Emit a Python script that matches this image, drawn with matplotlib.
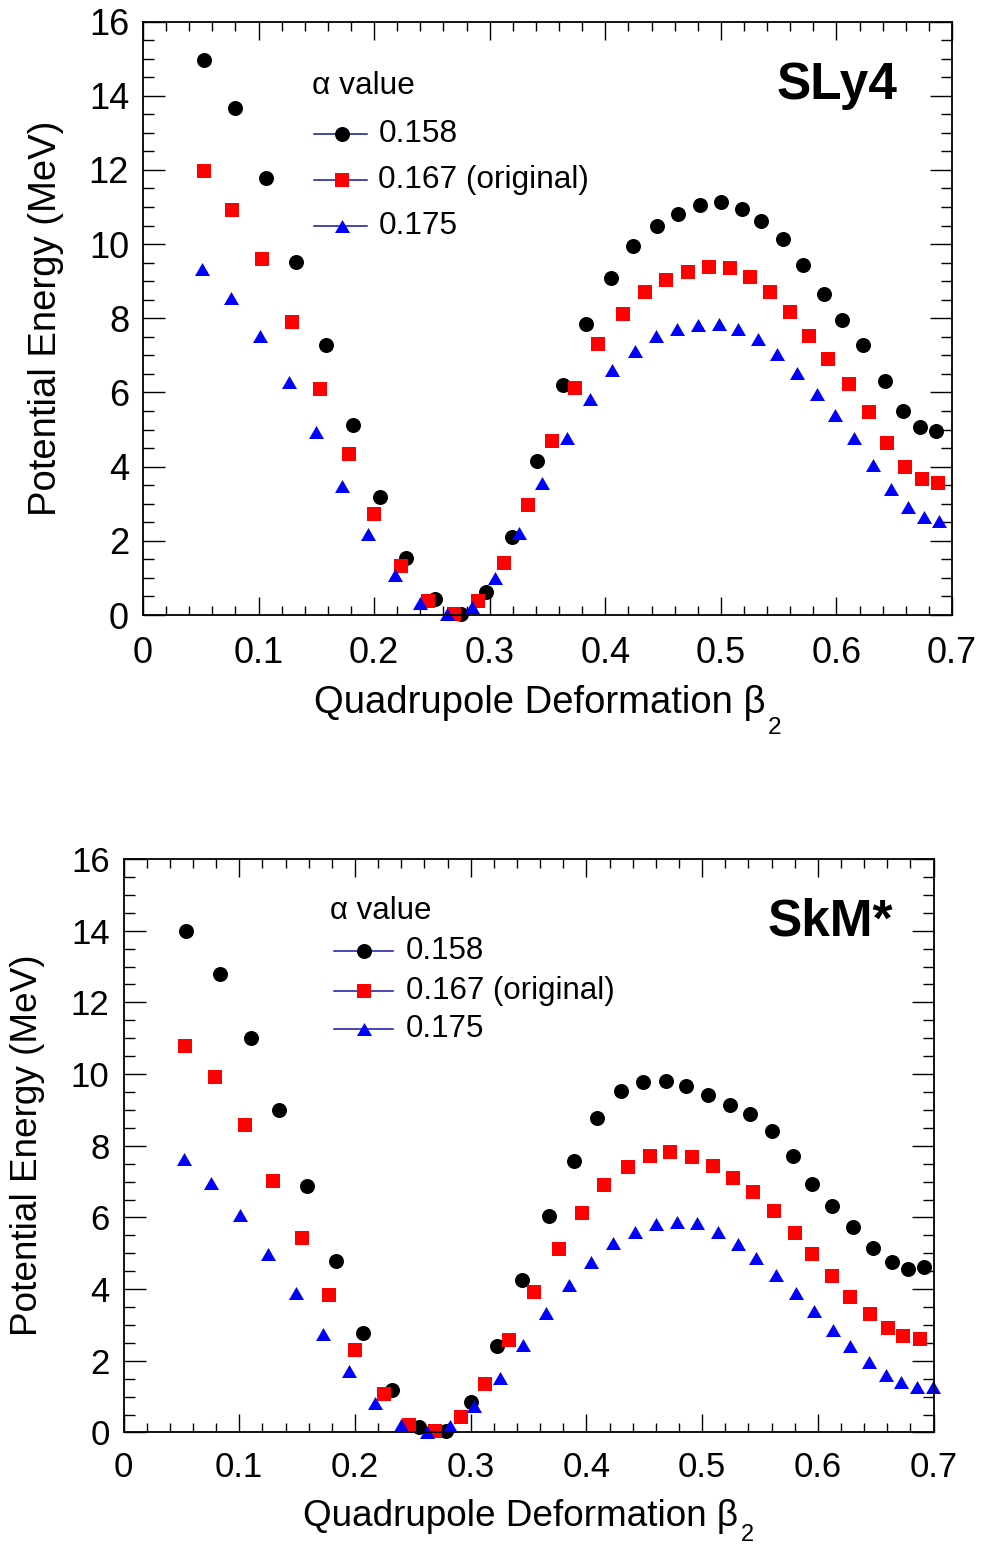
import matplotlib
matplotlib.use("Agg")
import matplotlib.pyplot as plt
from matplotlib.ticker import MultipleLocator, FuncFormatter
from matplotlib.lines import Line2D

plt.rcParams["font.family"] = ["Liberation Sans", "DejaVu Sans"]

# ---------------- data: SLy4 ----------------
sly4_beta_158 = [0.053, 0.080, 0.106, 0.132, 0.158, 0.182, 0.205, 0.228, 0.253, 0.275,
                 0.297, 0.319, 0.341, 0.363, 0.383, 0.405, 0.424, 0.445, 0.463, 0.482,
                 0.500, 0.518, 0.535, 0.554, 0.571, 0.589, 0.605, 0.623, 0.642, 0.658,
                 0.672, 0.686]
sly4_e_158 = [14.95, 13.66, 11.77, 9.51, 7.29, 5.13, 3.17, 1.54, 0.42, 0.04,
              0.61, 2.11, 4.16, 6.19, 7.84, 9.08, 9.94, 10.48, 10.81, 11.04,
              11.13, 10.95, 10.63, 10.14, 9.44, 8.66, 7.94, 7.29, 6.31, 5.49,
              5.07, 4.95]

sly4_beta_167 = [0.053, 0.077, 0.103, 0.129, 0.153, 0.178, 0.200, 0.223, 0.247, 0.269,
                 0.290, 0.312, 0.333, 0.354, 0.374, 0.394, 0.415, 0.434, 0.4525, 0.472,
                 0.490, 0.508, 0.525, 0.5425, 0.560, 0.5765, 0.593, 0.611, 0.628, 0.644,
                 0.659, 0.674, 0.688]
sly4_e_167 = [11.97, 10.93, 9.60, 7.89, 6.10, 4.35, 2.71, 1.33, 0.39, 0.04,
              0.39, 1.40, 2.97, 4.68, 6.12, 7.30, 8.11, 8.70, 9.04, 9.25,
              9.38, 9.35, 9.11, 8.70, 8.16, 7.51, 6.90, 6.22, 5.46, 4.63,
              4.00, 3.67, 3.55]

sly4_beta_175 = [0.051, 0.076, 0.101, 0.126, 0.150, 0.172, 0.195, 0.218, 0.240, 0.263,
                 0.285, 0.305, 0.325, 0.3455, 0.3666, 0.387, 0.406, 0.426, 0.444, 0.462,
                 0.480, 0.498, 0.515, 0.532, 0.549, 0.566, 0.583, 0.599, 0.6155, 0.632,
                 0.647, 0.662, 0.676, 0.689]
sly4_e_175 = [9.33, 8.55, 7.51, 6.27, 4.93, 3.49, 2.18, 1.07, 0.32, 0.03,
              0.22, 0.99, 2.20, 3.55, 4.78, 5.82, 6.61, 7.12, 7.51, 7.71,
              7.81, 7.85, 7.72, 7.45, 7.04, 6.52, 5.96, 5.40, 4.77, 4.05,
              3.40, 2.92, 2.64, 2.54]

# ---------------- data: SkM* ----------------
skm_beta_158 = [0.054, 0.083, 0.110, 0.134, 0.159, 0.184, 0.207, 0.232, 0.255, 0.279,
                0.300, 0.323, 0.344, 0.368, 0.389, 0.409, 0.430, 0.449, 0.469, 0.4865,
                0.505, 0.524, 0.541, 0.560, 0.579, 0.595, 0.6125, 0.630, 0.6476, 0.664,
                0.678, 0.692]
skm_e_158 = [14.00, 12.79, 11.01, 9.01, 6.89, 4.78, 2.77, 1.18, 0.16, 0.04,
             0.84, 2.42, 4.26, 6.05, 7.57, 8.77, 9.52, 9.78, 9.80, 9.66,
             9.42, 9.15, 8.89, 8.40, 7.71, 6.93, 6.32, 5.74, 5.16, 4.75,
             4.56, 4.62]

skm_beta_167 = [0.053, 0.079, 0.105, 0.1295, 0.154, 0.1776, 0.200, 0.2247, 0.247, 0.2693,
                0.2915, 0.3125, 0.3335, 0.355, 0.376, 0.396, 0.415, 0.436, 0.455, 0.4727,
                0.4917, 0.5095, 0.5268, 0.544, 0.562, 0.580, 0.5953, 0.612, 0.628, 0.6447,
                0.661, 0.674, 0.688]
skm_e_167 = [10.79, 9.93, 8.59, 7.03, 5.42, 3.84, 2.29, 1.06, 0.22, 0.04,
             0.44, 1.35, 2.59, 3.91, 5.12, 6.11, 6.90, 7.41, 7.71, 7.83,
             7.69, 7.44, 7.11, 6.70, 6.18, 5.57, 4.97, 4.37, 3.79, 3.30,
             2.91, 2.68, 2.62]

skm_beta_175 = [0.052, 0.076, 0.101, 0.1246, 0.149, 0.172, 0.195, 0.2176, 0.2397, 0.262,
                0.2822, 0.303, 0.3254, 0.345, 0.365, 0.385, 0.4037, 0.4227, 0.442, 0.4598,
                0.478, 0.4957, 0.5138, 0.531, 0.547, 0.564, 0.581, 0.5964, 0.613, 0.628,
                0.644, 0.6586, 0.672, 0.686, 0.6994]
skm_e_175 = [7.64, 6.96, 6.06, 4.99, 3.89, 2.75, 1.72, 0.83, 0.22, 0.01,
             0.19, 0.75, 1.52, 2.43, 3.33, 4.12, 4.77, 5.28, 5.60, 5.83,
             5.88, 5.85, 5.60, 5.26, 4.86, 4.40, 3.90, 3.39, 2.87, 2.40,
             1.96, 1.61, 1.40, 1.26, 1.26]

alpha_labels = ["0.158", "0.167 (original)", "0.175"]
colors = ["black", "#ff0000", "#0000ff"]
legend_line_color = "#1414a0"

# equilateral triangle (full triangle up)
tri = [(0.0, 0.5), (-0.577, -0.5), (0.577, -0.5)]
markers = ["o", "s", tri]
msizes = [10.8, 10.2, 10.8]

fig = plt.figure(figsize=(9.83, 15.44), dpi=100)
renderer = fig.canvas.get_renderer()


def style_axes(ax, fs, xpad):
    ax.set_xlim(0, 0.7)
    ax.set_ylim(0, 16)
    ax.xaxis.set_major_locator(MultipleLocator(0.1))
    ax.xaxis.set_minor_locator(MultipleLocator(0.02))
    ax.yaxis.set_major_locator(MultipleLocator(2))
    ax.yaxis.set_minor_locator(MultipleLocator(0.5))
    ax.xaxis.set_major_formatter(FuncFormatter(lambda v, _: f"{v:g}"))
    ax.yaxis.set_major_formatter(FuncFormatter(lambda v, _: f"{v:g}"))
    ax.tick_params(axis="both", which="both", direction="in",
                   top=True, right=True, width=1.0, colors="black")
    ax.tick_params(axis="x", which="major", length=13, pad=xpad, labelsize=fs)
    ax.tick_params(axis="x", which="minor", length=6.5)
    ax.tick_params(axis="y", which="major", length=16, pad=10, labelsize=fs)
    ax.tick_params(axis="y", which="minor", length=8)
    for sp in ax.spines.values():
        sp.set_linewidth(1.3)


def axis_titles(ax, fs, y_base, sub_drop_px, ylab_x):
    # x title: "β" with a deep subscript "2", centred as a whole under the axis
    axw, axh = ax.bbox.width, ax.bbox.height
    t_main = ax.text(0, y_base, "Quadrupole Deformation β", transform=ax.transAxes,
                     fontsize=fs, ha="left", va="baseline")
    t_sub = ax.text(0, y_base, "2", transform=ax.transAxes,
                    fontsize=fs * 0.64, ha="left", va="baseline")
    w_main = t_main.get_window_extent(renderer).width
    w_sub = t_sub.get_window_extent(renderer).width
    gap = 2.0
    x0 = 0.5 - (w_main + gap + w_sub) / 2 / axw
    t_main.set_x(x0)
    t_sub.set_x(x0 + (w_main + gap) / axw)
    t_sub.set_y(y_base - sub_drop_px / axh)
    ax.set_ylabel("Potential Energy (MeV)", fontsize=fs, va="center")
    ax.yaxis.set_label_coords(ylab_x, 0.5)


def draw_panel(ax, series, title, leg):
    for (bx, ey), c, m, ms in zip(series, colors, markers, msizes):
        ax.plot(bx, ey, linestyle="none", marker=m, markersize=ms,
                markerfacecolor=c, markeredgecolor=c, markeredgewidth=0,
                clip_on=False)
    # legend block
    x_title, y_title, x_l0, x_l1, x_m, x_txt, y_rows, lfs = leg
    ax.text(x_title, y_title, "α value", transform=ax.transAxes,
            fontsize=lfs, ha="left", va="center")
    for yr, lab, c, m, ms in zip(y_rows, alpha_labels, colors, markers, msizes):
        ax.add_line(Line2D([x_l0, x_l1], [yr, yr], transform=ax.transAxes,
                           color=legend_line_color, lw=1.1, clip_on=False))
        ax.add_line(Line2D([x_m], [yr], transform=ax.transAxes, linestyle="none",
                           marker=m, markersize=ms, markerfacecolor=c,
                           markeredgecolor=c, markeredgewidth=0, clip_on=False))
        ax.text(x_txt, yr, lab, transform=ax.transAxes, fontsize=lfs,
                ha="left", va="center")
    ax.text(title[1], title[2], title[0], transform=ax.transAxes,
            fontsize=37, fontweight="bold", ha="right", va="center")


# top panel: SLy4
ax1 = fig.add_axes([0.14547, 0.60168, 0.82299, 0.38439])
style_axes(ax1, 26, 15)
draw_panel(ax1,
           [(sly4_beta_158, sly4_e_158), (sly4_beta_167, sly4_e_167),
            (sly4_beta_175, sly4_e_175)],
           ("SLy4", 0.932, 0.892),
           (0.2085, 0.8905, 0.2117, 0.2773, 0.2456, 0.2909,
            [0.8112, 0.7331, 0.6555], 22.8))
axis_titles(ax1, 27.5, -0.165, 21, -0.1195)

# bottom panel: SkM*
ax2 = fig.add_axes([0.12564, 0.07222, 0.82401, 0.37144])
style_axes(ax2, 25, 13.5)
draw_panel(ax2,
           [(skm_beta_158, skm_e_158), (skm_beta_167, skm_e_167),
            (skm_beta_175, skm_e_175)],
           ("SkM*", 0.950, 0.890),
           (0.2549, 0.9100, 0.2602, 0.3331, 0.2969, 0.3488,
            [0.8390, 0.7700, 0.7035], 22.5))
axis_titles(ax2, 26.6, -0.163, 15, -0.118)

fig.savefig("out.png", dpi=100)
